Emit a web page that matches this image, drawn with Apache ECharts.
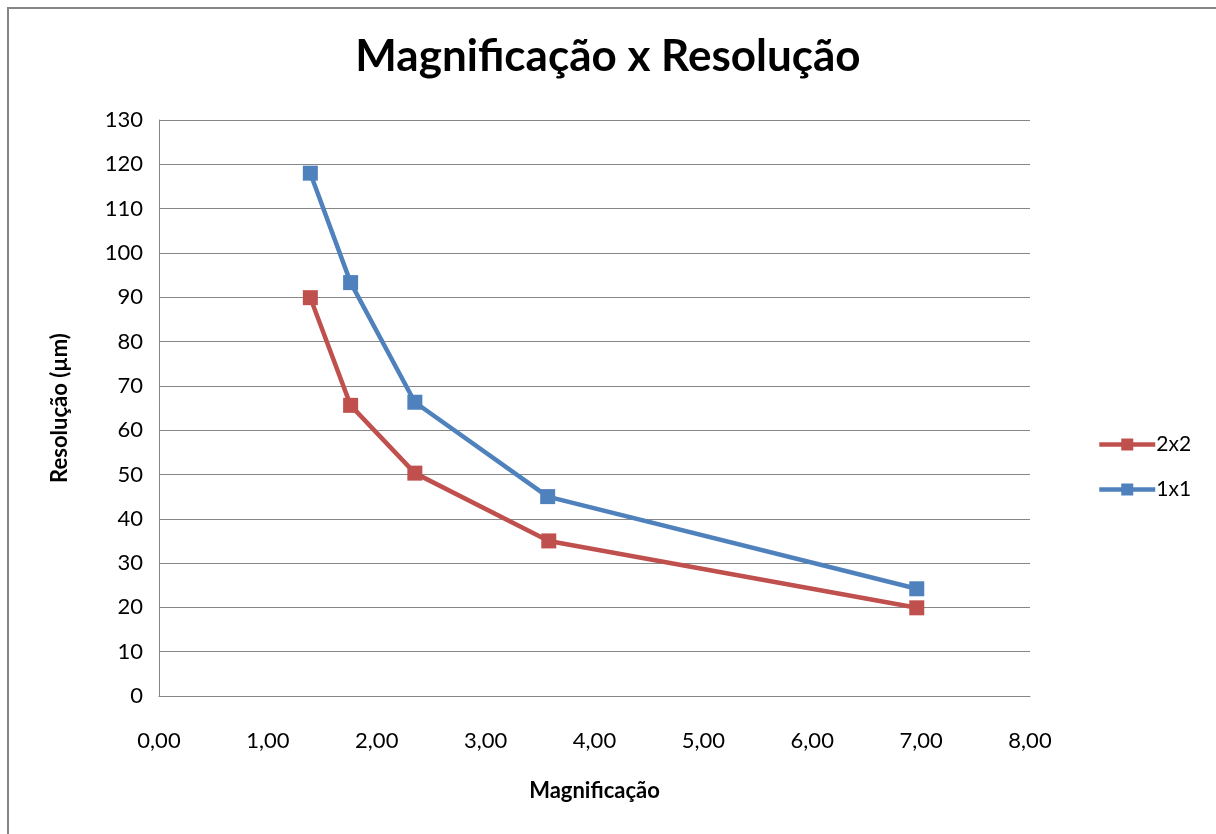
<!DOCTYPE html>
<html>
<head>
<meta charset="utf-8">
<script src="https://cdn.jsdelivr.net/npm/echarts@6/dist/echarts.min.js"></script>
<style>
  html, body { margin: 0; padding: 0; background: #fff; }
  #chart { width: 1216px; height: 834px; }
</style>
</head>
<body>
<div id="chart"></div>
<script>
// Magnification values and measured resolution (µm) for the two binning modes
const magnificacao2x2 = [1.39, 1.76, 2.35, 3.58, 6.96];
const resolucao2x2    = [89.9, 65.6, 50.3, 35.0, 19.9];
const magnificacao1x1 = [1.39, 1.76, 2.35, 3.57, 6.96];
const resolucao1x1    = [118.0, 93.3, 66.3, 45.0, 24.2];
const seriesNames = ['2x2', '1x1'];
const seriesColors = ['#C0504D', '#4F81BD'];

const FONT = 'Lato, "Open Sans", sans-serif';

function pairs(xs, ys) { return xs.map((x, i) => [x, ys[i]]); }

const chart = echarts.init(document.getElementById('chart'));
chart.setOption({
  backgroundColor: '#ffffff',
  animation: false,
  graphic: [{
    type: 'rect',
    shape: { x: 8, y: 8, width: 1230, height: 850 },
    style: { fill: 'none', stroke: '#868686', lineWidth: 2 },
    silent: true
  }],
  title: {
    text: 'Magnificação x Resolução',
    left: 'center',
    top: 30,
    textStyle: { fontFamily: FONT, fontSize: 44, fontWeight: 'bold', color: '#000' }
  },
  legend: {
    orient: 'vertical',
    left: 1092,
    top: 429,
    itemGap: 24,
    itemWidth: 56,
    itemHeight: 15,
    data: seriesNames,
    lineStyle: { width: 4.5 },
    textStyle: { fontFamily: FONT, fontSize: 21, color: '#000', padding: [0, 0, 0, -4] }
  },
  grid: { left: 159, top: 120, width: 871, height: 576, containLabel: false },
  xAxis: {
    type: 'value',
    min: 0, max: 8, interval: 1,
    name: 'Magnificação',
    nameLocation: 'middle',
    nameGap: 84,
    nameTextStyle: { fontFamily: FONT, fontSize: 22, fontWeight: 'bold', color: '#000' },
    axisLine: { show: true, lineStyle: { color: '#868686', width: 1 } },
    axisTick: { show: false },
    splitLine: { show: false },
    axisLabel: {
      fontFamily: FONT, fontSize: 22, color: '#000', margin: 34,
      formatter: v => v.toFixed(2).replace('.', ',')
    }
  },
  yAxis: {
    type: 'value',
    min: 0, max: 130, interval: 10,
    name: 'Resolução (µm)',
    nameLocation: 'middle',
    nameGap: 88,
    nameRotate: 90,
    nameTextStyle: { fontFamily: FONT, fontSize: 22, fontWeight: 'bold', color: '#000' },
    axisLine: { show: true, lineStyle: { color: '#868686', width: 1 } },
    axisTick: { show: false },
    splitLine: { show: true, lineStyle: { color: '#868686', width: 1.2 } },
    axisLabel: { fontFamily: FONT, fontSize: 22, color: '#000', margin: 16 }
  },
  series: [
    {
      name: seriesNames[0],
      type: 'line',
      data: pairs(magnificacao2x2, resolucao2x2),
      color: seriesColors[0],
      symbol: 'rect',
      symbolSize: 15,
      lineStyle: { width: 4.5, color: seriesColors[0] },
      itemStyle: { color: seriesColors[0] }
    },
    {
      name: seriesNames[1],
      type: 'line',
      data: pairs(magnificacao1x1, resolucao1x1),
      color: seriesColors[1],
      symbol: 'rect',
      symbolSize: 15,
      lineStyle: { width: 4.5, color: seriesColors[1] },
      itemStyle: { color: seriesColors[1] }
    }
  ]
});
</script>
</body>
</html>
